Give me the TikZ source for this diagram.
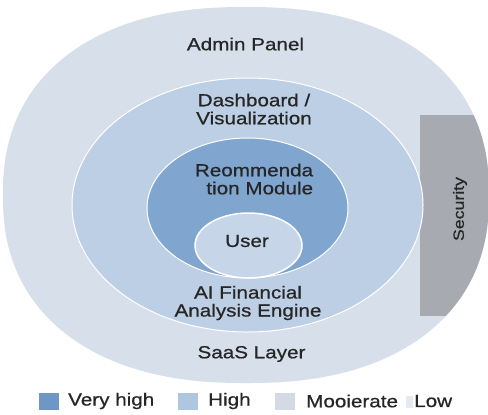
\documentclass[tikz,border=0pt]{standalone}
\usepackage{fontspec}
\setmainfont[FakeStretch=1.18,FakeBold=0.7]{Liberation Sans}
\definecolor{outerc}{HTML}{D6DFEA}
\definecolor{secondc}{HTML}{BCCFE4}
\definecolor{thirdc}{HTML}{80A6D0}
\definecolor{userc}{HTML}{C6D6E8}
\definecolor{barc}{HTML}{A7ABB1}
\definecolor{txtc}{HTML}{262626}
\definecolor{vhigh}{HTML}{6F97C6}
\definecolor{highc}{HTML}{AFC6DF}
\definecolor{modc}{HTML}{D3DAE6}
\definecolor{lowc}{HTML}{E6EAF0}
\tikzset{
  lbl/.style={font=\fontsize{17.5bp}{18bp}\selectfont, text=txtc, align=center, inner sep=0pt},
  legbox/.style={minimum width=20bp, minimum height=17bp, inner sep=0pt},
  legtxt/.style={font=\fontsize{17.5bp}{18bp}\selectfont, text=txtc, anchor=west, inner sep=0pt}
}
\newcommand{\superpath}[5]{plot[domain=0:359,samples=360,variable=\t] ({#1+#3*sign(cos(\t))*pow(abs(cos(\t))+0.00001,2/#5)}, {#2+#4*sign(sin(\t))*pow(abs(sin(\t))+0.00001,2/#5)}) -- cycle}
\begin{document}
\begin{tikzpicture}[x=1bp,y=-1bp]
\useasboundingbox (0,0) rectangle (488,414);
\fill[white] (0,0) rectangle (488,414);
% outer layer
\fill[outerc] \superpath{246}{195}{243}{188}{2.3};
% security bar, clipped by outer layer
\begin{scope}
\clip \superpath{246}{195}{243}{188}{2.3};
\fill[barc] (420,115) rectangle (495,316);
\end{scope}
% second layer
\fill[secondc, draw=white, line width=1bp] (247.5,205) ellipse [x radius=175.5, y radius=127];
% third layer
\fill[thirdc, draw=white, line width=1bp] (247.5,208) ellipse [x radius=100.5, y radius=70];
% user
\fill[userc, draw=white, line width=1.5bp] (248.5,245.5) ellipse [x radius=53.5, y radius=32.5];
% labels
\node[lbl] (admin) at (245.5,44) {Admin Panel};
\node[lbl] (dash) at (254,109) {Dashboard /\\Visualization};
\node[lbl] (reco) at (254,179) {Reommenda\\\ \ tion Module};
\node[lbl] (user) at (247,241) {User};
\node[lbl] (ai) at (248,303) {AI Financial\\Analysis Engine};
\node[lbl] (saas) at (251.5,354) {SaaS Layer};
\node[lbl, rotate=90, font=\fontsize{15bp}{16bp}\selectfont] (sec) at (460,209) {Security};
% legend
\node[legbox, fill=vhigh] (lg1) at (49,401.5) {};
\node[legtxt] (lt1) at (68,401) {Very high};
\node[legbox, fill=highc] (lg2) at (188,401.5) {};
\node[legtxt] (lt2) at (208,401) {High};
\node[legbox, fill=modc] (lg3) at (285,401.5) {};
\node[legtxt] (lt3) at (306,401) {Mooierate};
\node[fill=lowc, minimum width=7bp, minimum height=12bp, inner sep=0pt] (lg4) at (409,401.5) {};
\node[legtxt] (lt4) at (414,401) {Low};
\end{tikzpicture}
\end{document}
